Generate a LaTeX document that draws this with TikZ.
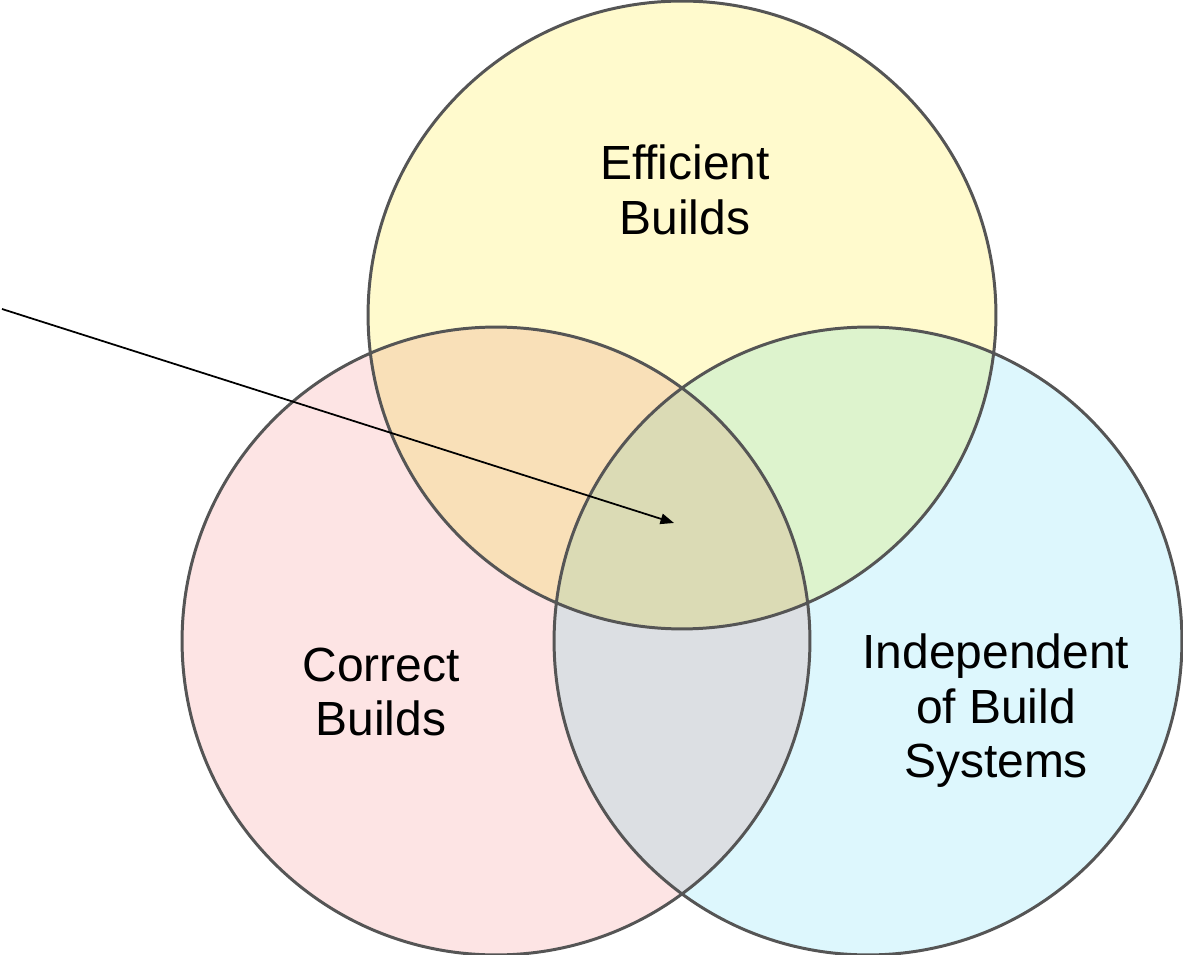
\documentclass[tikz,border=0pt]{standalone}
\usepackage{fontspec}
\setmainfont{Liberation Sans}
\usetikzlibrary{arrows.meta}

\definecolor{effyellow}{HTML}{FFFACD}
\definecolor{corpink}{HTML}{FDE4E4}
\definecolor{indcyan}{HTML}{DDF7FD}
\definecolor{effcor}{HTML}{F9E0B8}
\definecolor{effind}{HTML}{DDF3CD}
\definecolor{corind}{HTML}{DCDFE3}
\definecolor{allthree}{HTML}{DBDBB5}
\definecolor{rim}{HTML}{555555}

\tikzset{
  rimline/.style={draw=rim, line width=1.7pt},
  lbl/.style={align=center, font=\fontsize{27.3}{31}\selectfont},
}

\begin{document}
\begin{tikzpicture}[x=0.02cm,y=-0.02cm]
	\useasboundingbox (0,0) rectangle (1183,955);
	\def\rad{6.28cm}

	\coordinate (effc) at (682,315);
	\coordinate (corc) at (496,641);
	\coordinate (indc) at (868,641);

	% circles
	\fill[effyellow] (effc) circle[radius=\rad];
	\fill[corpink] (corc) circle[radius=\rad];
	\fill[indcyan] (indc) circle[radius=\rad];

	% correct & independent
	\begin{scope}
		\clip (corc) circle[radius=\rad];
		\fill[corind] (indc) circle[radius=\rad];
	\end{scope}

	% efficient & the others
	\begin{scope}
		\clip (effc) circle[radius=\rad];
		\fill[effcor] (corc) circle[radius=\rad];
		\fill[effind] (indc) circle[radius=\rad];
		\clip (corc) circle[radius=\rad];
		\fill[allthree] (indc) circle[radius=\rad];
	\end{scope}

	% rims
	\draw[rimline] (effc) circle[radius=\rad];
	\draw[rimline] (corc) circle[radius=\rad];
	\draw[rimline] (indc) circle[radius=\rad];

	% labels
	\node[lbl] (eff) at (685,190) {Efficient\\Builds};
	\node[lbl] (cor) at (381,692) {Correct\\Builds};
	\node[lbl] (ind) at (996,711) {Independent\\of Build\\Systems};

	% arrow
	\coordinate (from) at (2,309);
	\coordinate (tip) at (674,523);
	\draw[line width=1pt, -{Triangle[length=0.27cm,width=0.21cm]}] (from) -- (tip);

\end{tikzpicture}
\end{document}
